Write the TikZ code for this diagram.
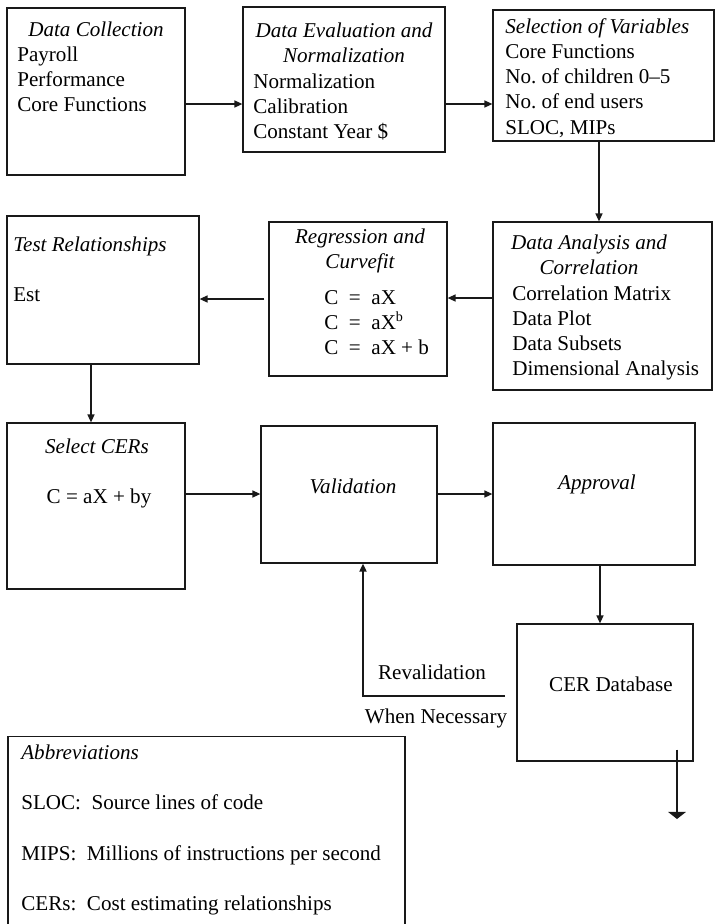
\documentclass[tikz,border=0pt]{standalone}
\usepackage{fontspec}
\setmainfont{Liberation Serif}
\usetikzlibrary{arrows.meta,calc}

\begin{document}
\begin{tikzpicture}[x=0.02cm,y=-0.02cm,>={Triangle[length=4.5pt,width=4pt]},
    font=\fontsize{12}{14.4}\selectfont,
    box/.style={draw=black!90, line width=0.75pt, inner sep=0pt},
    txt/.style={inner sep=0pt, align=left, anchor=base west},
    ctxt/.style={inner sep=0pt, align=center, anchor=base},
    ttl/.style={ctxt, font=\fontsize{12}{14.4}\selectfont\itshape},
    flow/.style={->, line width=0.7pt, black!90},
    exitflow/.style={-{Triangle[length=4pt,width=10pt]}, line width=0.7pt, black!90}]

    % --- Page ---
    \useasboundingbox (0,0) rectangle (715,924);
    \clip (0,0) rectangle (715,924);
    \fill[white] (0,0) rectangle (715,924);

    % --- Top row (text nodes sit on their last baseline) ---
    \node[box, minimum width=3.56cm, minimum height=3.34cm] (DataColl) at (96,91.5) {};
    \node[ttl] (DataCollTitle) at (96,36) {Data Collection};
    \node[txt] (DataCollBody) at (17,111.6) {Payroll\\Performance\\Core Functions};

    \node[box, minimum width=4.04cm, minimum height=2.90cm] (DataEval) at (344,79.5) {};
    \node[ttl] (DataEvalTitle) at (344,62.3) {Data Evaluation and\\Normalization};
    \node[txt] (DataEvalBody) at (253,138.6) {Normalization\\Calibration\\Constant Year \$};

    \node[box, minimum width=4.42cm, minimum height=2.62cm] (SelVar) at (603.5,75.5) {};
    \node[txt] (SelVarText) at (505,134.2)
        {\textit{Selection of Variables}\\Core Functions\\No.\ of children 0--5\\No.\ of end users\\SLOC, MIPs};

    % --- Middle row ---
    \node[box, minimum width=3.84cm, minimum height=2.96cm] (TestRel) at (103,290) {};
    \node[txt] (TestRelText) at (13,301.6) {\textit{Test Relationships}\\[14.4pt]Est};

    \node[box, minimum width=3.56cm, minimum height=3.08cm] (Regress) at (358,299) {};
    \node[ttl] (RegressTitle) at (360,268.3) {Regression and\\Curvefit};
    \node[txt] (RegressEqs) at (324,354.6)
        {C~~=~~aX\\C~~=~~aX\textsuperscript{b}\\C~~=~~aX + b};

    \node[box, minimum width=4.38cm, minimum height=3.36cm] (DataAna) at (602.5,306) {};
    \node[ttl] (DataAnaTitle) at (589,274.3) {Data Analysis and\\Correlation};
    \node[txt] (DataAnaBody) at (512,375.9)
        {Correlation Matrix\\Data Plot\\Data Subsets\\Dimensional Analysis};

    % --- Bottom row ---
    \node[box, minimum width=3.56cm, minimum height=3.32cm] (SelCER) at (96,506) {};
    \node[ttl] (SelCERTitle) at (97,453) {Select CERs};
    \node[ctxt] (SelCEREq) at (99,503) {C = aX + by};

    \node[box, minimum width=3.52cm, minimum height=2.74cm] (Valid) at (349,494.5) {};
    \node[ttl] (ValidText) at (353,493) {Validation};

    \node[box, minimum width=4.04cm, minimum height=2.84cm] (Approv) at (594,494) {};
    \node[ttl] (ApprovText) at (597,489) {Approval};

    \node[box, minimum width=3.52cm, minimum height=2.74cm] (CERdb) at (605,692.5) {};
    \node[ctxt] (CERdbText) at (611,691) {CER Database};

    % --- Flow arrows ---
    \draw[flow] (DataColl.east |- 0,104) -- (DataEval.west |- 0,104);
    \draw[flow] (DataEval.east |- 0,104) -- (SelVar.west |- 0,104);
    \draw[flow] (SelVar.south -| 599,0) -- (DataAna.north -| 599,0);
    \draw[flow] (DataAna.west |- 0,298) -- (Regress.east |- 0,298);
    \draw[flow, shorten <=0.08cm] (Regress.west |- 0,299) -- (TestRel.east |- 0,299);
    \draw[flow] (TestRel.south -| 91,0) -- (SelCER.north -| 91,0);
    \draw[flow] (SelCER.east |- 0,494) -- (Valid.west |- 0,494);
    \draw[flow] (Valid.east |- 0,494) -- (Approv.west |- 0,494);
    \draw[flow] (Approv.south -| 600,0) -- (CERdb.north -| 600,0);

    % --- Revalidation loop ---
    \coordinate (RevalEnd) at (505,696);
    \draw[flow, line width=0.9pt] (RevalEnd) -| (Valid.south -| 363,0);
    \node[ctxt] (RevalText) at (432,679) {Revalidation};
    \node[ctxt] (WhenText) at (436,723) {When Necessary};

    % --- Database exit ---
    \coordinate (DbExit) at (677,819);
    \draw[exitflow] (CERdb.south -| 677,0) ++(0,-12) -- (DbExit);

    % --- Abbreviations ---
    \node[box, minimum width=7.94cm, minimum height=3.90cm] (Abbrev) at (206.5,834) {};
    \node[txt] (AbbrevText) at (21,910.8)
        {\textit{Abbreviations}\\[14.4pt]SLOC:\ \ Source lines of code\\[14.4pt]MIPS:\ \ Millions of instructions per second\\[14.4pt]CERs:\ \ Cost estimating relationships};

\end{tikzpicture}
\end{document}
